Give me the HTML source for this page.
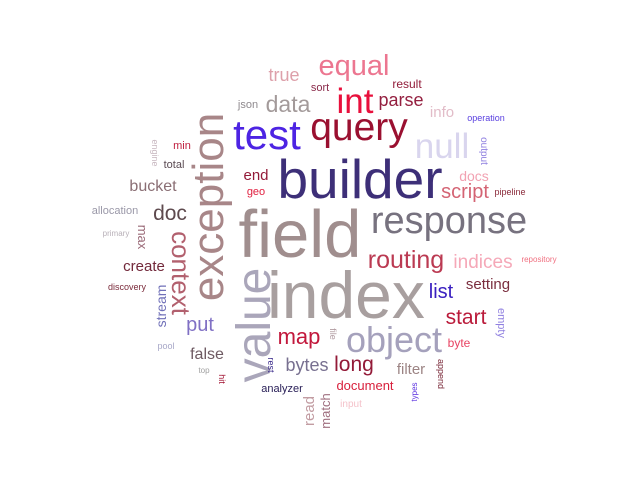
<!DOCTYPE html>
<html><head><meta charset="utf-8"><style>
html,body{margin:0;padding:0;background:#fff;width:640px;height:480px;overflow:hidden}
svg{display:block}
text{font-family:"Liberation Sans",Arial,sans-serif;text-anchor:middle}
</style></head><body>
<svg width="640" height="480" viewBox="0 0 640 480">
<g>
<text x="346" y="318" font-size="66" fill="#a89f9f">index</text>
<text x="300" y="257" font-size="67" fill="#a08e8e">field</text>
<text x="360" y="198" font-size="55" fill="#3d2f78">builder</text>
<text x="449" y="233" font-size="38" fill="#77727f">response</text>
<text x="359" y="140" font-size="39" fill="#9a1030">query</text>
<text x="267" y="149" font-size="42" fill="#4d24e3">test</text>
<text x="355" y="113" font-size="35" fill="#e8103c">int</text>
<text x="354" y="75" font-size="29" fill="#ec7690">equal</text>
<text x="442" y="158" font-size="35" fill="#d9d5ee">null</text>
<text x="394" y="352" font-size="36" fill="#a5a1bc">object</text>
<text x="406" y="268" font-size="25" fill="#bb3a52">routing</text>
<text x="483" y="268" font-size="19" fill="#f5a8b8">indices</text>
<text x="288" y="112" font-size="23" fill="#a39a9a">data</text>
<text x="284" y="81" font-size="18" fill="#dda0aa">true</text>
<text x="401" y="106" font-size="18" fill="#942040">parse</text>
<text x="407" y="88" font-size="12" fill="#921c3a">result</text>
<text x="320" y="91" font-size="11" fill="#8a2a4a">sort</text>
<text x="248" y="108" font-size="11" fill="#8f8a8e">json</text>
<text x="442" y="117" font-size="15" fill="#e2bcc8">info</text>
<text x="486" y="121" font-size="9" fill="#5a40e0">operation</text>
<text x="474" y="181" font-size="14" fill="#f2a2b2">docs</text>
<text x="465" y="198" font-size="20" fill="#d46474">script</text>
<text x="510" y="195" font-size="9" fill="#8a2a3a">pipeline</text>
<text x="539" y="262" font-size="8" fill="#f07080">repository</text>
<text x="488" y="289" font-size="15" fill="#7a2e3e">setting</text>
<text x="441" y="298" font-size="20" fill="#3a20c0">list</text>
<text x="466" y="324" font-size="21" fill="#ba1a3a">start</text>
<text x="459" y="347" font-size="12" fill="#e84262">byte</text>
<text x="411" y="374" font-size="15" fill="#9c8484">filter</text>
<text x="351" y="407" font-size="10" fill="#f4c2ca">input</text>
<text x="365" y="390" font-size="13" fill="#d8203c">document</text>
<text x="354" y="371" font-size="21" fill="#931a38">long</text>
<text x="307" y="371" font-size="18" fill="#787090">bytes</text>
<text x="299" y="344" font-size="22" fill="#c2183c">map</text>
<text x="282" y="392" font-size="11" fill="#2a2058">analyzer</text>
<text x="204" y="373" font-size="8" fill="#a0a0a0">top</text>
<text x="207" y="359" font-size="16" fill="#6e5a62">false</text>
<text x="166" y="349" font-size="9" fill="#a8a8c8">pool</text>
<text x="200" y="331" font-size="20" fill="#8070c4">put</text>
<text x="127" y="290" font-size="9" fill="#7a2a3a">discovery</text>
<text x="144" y="271" font-size="15" fill="#72283a">create</text>
<text x="116" y="236" font-size="8" fill="#b8b0b8">primary</text>
<text x="115" y="214" font-size="11" fill="#9a98a8">allocation</text>
<text x="170" y="220" font-size="21" fill="#5e4a4e">doc</text>
<text x="153" y="191" font-size="16" fill="#8a6e74">bucket</text>
<text x="174" y="168" font-size="11" fill="#5a4a52">total</text>
<text x="182" y="149" font-size="11" fill="#c02040">min</text>
<text x="256" y="180" font-size="15" fill="#931a38">end</text>
<text x="256" y="195" font-size="11" fill="#e02040">geo</text>
</g>
<g>
<text transform="translate(223,207) rotate(-90)" font-size="44" fill="#a88688">exception</text>
<text transform="translate(270,325) rotate(-90)" font-size="48" fill="#aaa6ba">value</text>
<text transform="translate(166,306) rotate(-90)" font-size="14" fill="#7070b8">stream</text>
<text transform="translate(314,411) rotate(-90)" font-size="15" fill="#c29ca2">read</text>
<text transform="translate(330,411) rotate(-90)" font-size="13" fill="#a07080">match</text>
<text transform="translate(417,392) rotate(-90)" font-size="8" fill="#5a30e0">types</text>
<text transform="translate(172,273) rotate(90)" font-size="26" fill="#b2606e">context</text>
<text transform="translate(138,237) rotate(90)" font-size="13" fill="#9a6a78">max</text>
<text transform="translate(152,153) rotate(90)" font-size="9" fill="#c8b8c0">engine</text>
<text transform="translate(330,334) rotate(90)" font-size="9" fill="#b09aa0">file</text>
<text transform="translate(268,365) rotate(90)" font-size="9" fill="#3a2a8a">rest</text>
<text transform="translate(219,379) rotate(90)" font-size="9" fill="#a01030">hit</text>
<text transform="translate(481,151) rotate(90)" font-size="10" fill="#9080e0">output</text>
<text transform="translate(498,323) rotate(90)" font-size="11" fill="#9080e0">empty</text>
<text transform="translate(438,374) rotate(90)" font-size="9" fill="#7a2a3a">append</text>
</g>
</svg>
</body></html>
